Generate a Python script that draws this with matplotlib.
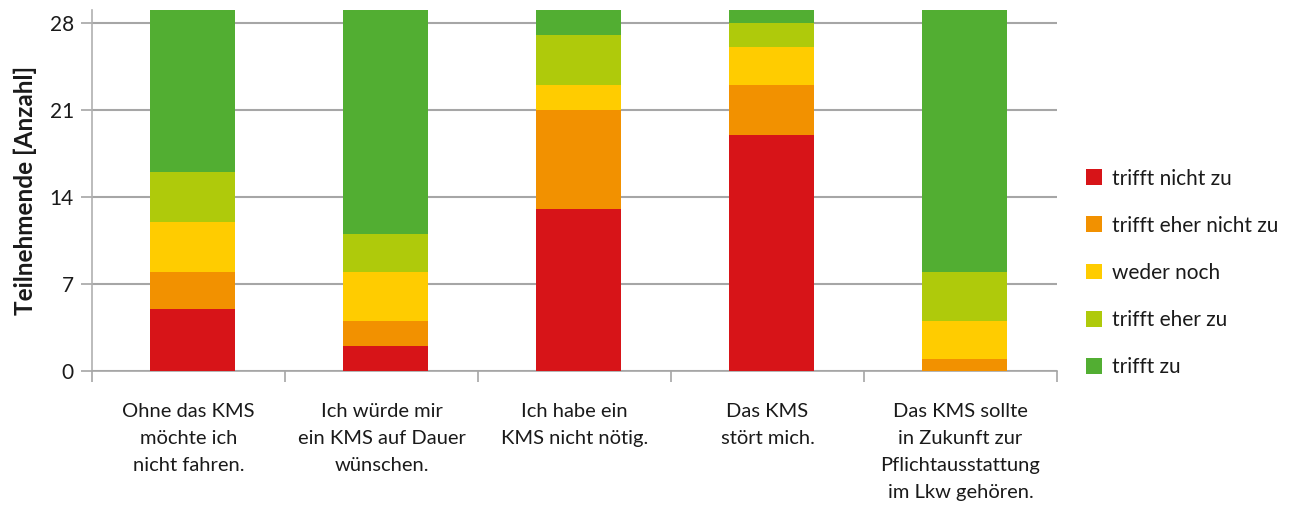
import numpy as np
import matplotlib

matplotlib.use("Agg")
import matplotlib.pyplot as plt
from matplotlib.patches import Patch

plt.rcParams["font.family"] = ["Lato", "DejaVu Sans"]

# ---------------------------------------------------------------------------
# Data
# ---------------------------------------------------------------------------

categories = [
    "Ohne das KMS\nmöchte ich\nnicht fahren.",
    "Ich würde mir\nein KMS auf Dauer\nwünschen.",
    "Ich habe ein\nKMS nicht nötig.",
    "Das KMS\nstört mich.",
    "Das KMS sollte\nin Zukunft zur\nPflichtausstattung\nim Lkw gehören.",
]

series_labels = [
    "trifft nicht zu",
    "trifft eher nicht zu",
    "weder noch",
    "trifft eher zu",
    "trifft zu",
]

trifft_nicht_zu      = [5, 2, 13, 19, 0]
trifft_eher_nicht_zu = [3, 2, 8, 4, 1]
weder_noch           = [4, 4, 2, 3, 3]
trifft_eher_zu       = [4, 3, 4, 2, 4]
trifft_zu            = [13, 18, 2, 1, 21]

colors = ["#d71418", "#f29100", "#ffcc00", "#afca0b", "#52ae32"]

yticks = [0, 7, 14, 21, 28]

# ---------------------------------------------------------------------------
# Plot
# ---------------------------------------------------------------------------

fig = plt.figure(figsize=(12.98, 5.07), dpi=100)
ax = fig.add_axes([0.0709, 0.268, 0.7434, 0.712])

x = np.arange(len(categories))
bottom = np.zeros(len(categories))
series = [trifft_nicht_zu, trifft_eher_nicht_zu, weder_noch, trifft_eher_zu, trifft_zu]
for vals, c, lab in zip(series, colors, series_labels):
    # bars sit a touch right of the category centre in the original
    ax.bar(x + 0.02, vals, width=0.44, bottom=bottom, color=c, label=lab, zorder=3)
    bottom += np.array(vals)

ax.set_xlim(-0.5, len(categories) - 0.5)
ax.set_ylim(0, 29)
ax.set_yticks(yticks)
ax.tick_params(axis="y", labelsize=15, length=8, width=1.2, color="#a6a6a6",
               pad=5, labelcolor="#1a1a1a")
ax.yaxis.grid(True, color="#a6a6a6", linewidth=1.5, zorder=0)
ax.set_axisbelow(True)

# category labels between boundary ticks
ax.set_xticks(np.arange(-0.5, len(categories)), minor=False)
ax.set_xticklabels([])
ax.tick_params(axis="x", length=8, width=1.2, color="#a6a6a6")
ax.set_xticks(x, minor=True)
ax.set_xticklabels(categories, minor=True, fontsize=14.5, color="#1a1a1a",
                   linespacing=1.72)
ax.tick_params(axis="x", which="minor", length=0, pad=23)

for s in ["top", "right"]:
    ax.spines[s].set_visible(False)
ax.spines["left"].set_color("#b0b0b0")
ax.spines["left"].set_linewidth(1.2)
ax.spines["bottom"].set_color("#a6a6a6")
ax.spines["bottom"].set_linewidth(1.2)

ax.set_ylabel("Teilnehmende [Anzahl]", fontsize=17.5, fontweight="bold",
              color="#1a1a1a", labelpad=9)

handles = [Patch(facecolor=c, edgecolor="none") for c in colors]
fig.legend(handles, series_labels, loc="center left",
           bbox_to_anchor=(0.822, 0.462), frameon=False, fontsize=15,
           handlelength=0.8, handleheight=0.8, handletextpad=0.45,
           labelspacing=1.3, labelcolor="#1a1a1a")

fig.savefig("out.png", dpi=100)
plt.close(fig)
